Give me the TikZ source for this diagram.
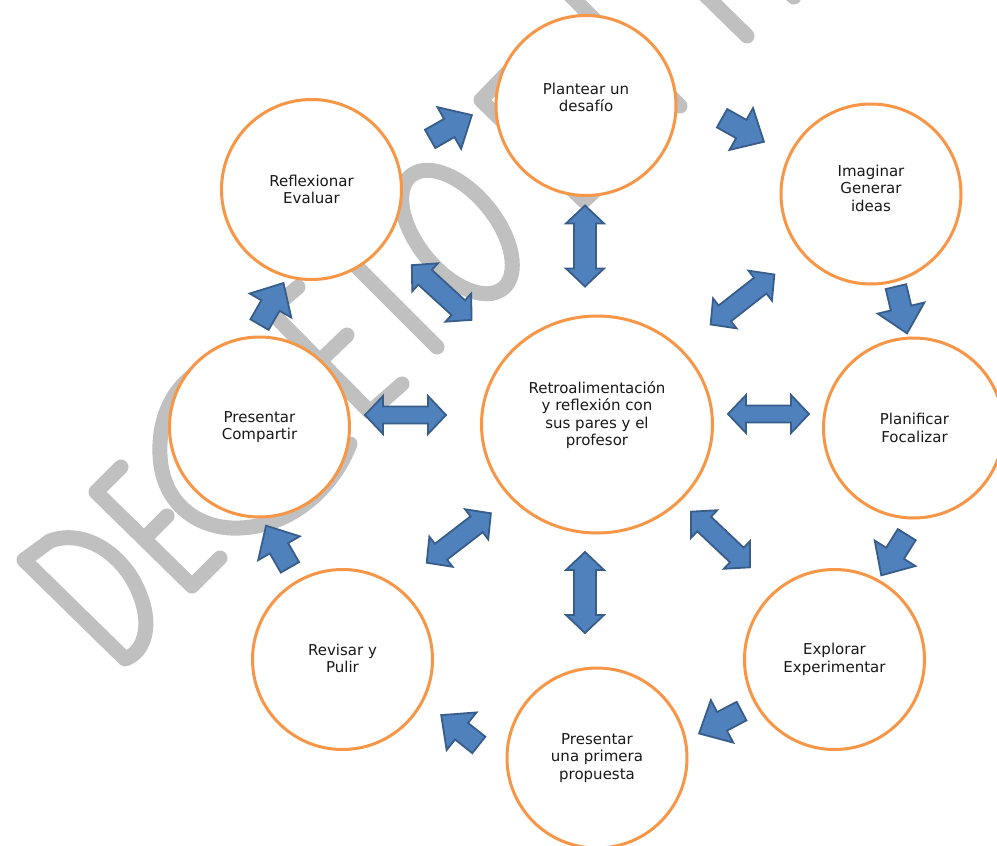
\documentclass[tikz,border=0pt]{standalone}
\usepackage{fontspec}
\setmainfont{DejaVu Sans}
\usetikzlibrary{shapes.geometric}
\definecolor{ringor}{HTML}{F79646}
\definecolor{arrfill}{HTML}{4F81BD}
\definecolor{arrline}{HTML}{385D8A}
\definecolor{wmgray}{HTML}{C0C0C0}
\begin{document}
\begin{tikzpicture}[x=1pt,y=-1pt,
  ring/.style={circle, draw=ringor, line width=3pt, fill=white, minimum size=180pt, inner sep=0pt},
  bigring/.style={ellipse, draw=ringor, line width=3pt, fill=white, minimum width=231pt, minimum height=217pt, inner sep=0pt},
  lbl/.style={align=center, font=\fontsize{15}{17.5}\selectfont, text=black!90, inner sep=0pt},
  wm/.style={draw=wmgray, line width=15pt, line cap=round, line join=round},
  blk/.style={fill=arrfill, draw=arrline, line width=1.8pt, line join=miter},
  pics/sarrow/.style={code={\draw[blk] (-24,-10.5) -- (-2,-10.5) -- (-2,-24) -- (24,0) -- (-2,24) -- (-2,10.5) -- (-24,10.5) -- cycle;}},
  pics/darrow/.style={code={\draw[blk] (-40.5,0) -- (-22.5,-19) -- (-22.5,-#1) -- (22.5,-#1) -- (22.5,-19) -- (40.5,0) -- (22.5,19) -- (22.5,#1) -- (-22.5,#1) -- (-22.5,19) -- cycle;}}]
\path[use as bounding box] (0,0) rectangle (997,846);
\clip (0,0) rectangle (997,846);
\fill[white] (0,0) rectangle (997,846);

% watermark
\draw[wm] (125,659) -- (24,560) -- (50,541) .. controls (85,528) and (125,555) .. (140,595) .. controls (152,625) and (145,652) .. (125,659) -- cycle;
\draw[wm] (121,467) -- (96,492) -- (192,586) -- (220,558);
\draw[wm] (144,539) -- (167,516);
\draw[wm] (225,360) .. controls (180,372) and (158,410) .. (160,455) .. controls (162,505) and (200,530) .. (240,528) .. controls (290,526) and (332,490) .. (350,444);
\draw[wm] (298,287) -- (270,311) -- (370,412) -- (402,384);
\draw[wm] (320,361) -- (347,335);
\draw[wm] (320,230) -- (437,347);
\begin{scope}[shift={(457,232)},rotate=-50.8]
\draw[wm] (0,0) ellipse [x radius=72.8, y radius=39.6];
\end{scope}
\draw[wm] (515,65) -- (481,100) -- (584,201) -- (618,168);
\draw[wm] (532,150) -- (566,117);
\draw[wm] (565,-10) -- (680,106);
\draw[wm] (690,-20) -- (747,36);
\draw[wm] (782,-14) -- (794,-3);

% circles
\node[ring] (plan) at (586,105.5) {};
\node[ring] (refl) at (311.5,189.5) {};
\node[ring] (imag) at (871,194) {};
\node[ring] (planif) at (913.5,428) {};
\node[bigring] (centro) at (597,424.5) {};
\node[ring] (comp) at (259.5,427) {};
\node[ring] (revi) at (342.5,659.5) {};
\node[ring] (prim) at (597,758) {};
\node[ring] (expl) at (834.5,659.5) {};

% labels
\node[lbl] (tplan) at ([yshift=8pt]plan.center) {Plantear un\\desafío};
\node[lbl] (trefl) at (refl.center) {Reflexionar\\Evaluar};
\node[lbl] (timag) at ([yshift=6pt]imag.center) {Imaginar\\Generar\\ideas};
\node[lbl] (tplanif) at ([xshift=1pt]planif.center) {Planificar\\Focalizar};
\node[lbl] (tcentro) at ([yshift=9.5pt]centro.center) {Retroalimentación\\y reflexión con\\sus pares y el\\profesor};
\node[lbl] (tcomp) at (comp.center) {Presentar\\Compartir};
\node[lbl] (trevi) at ([yshift=1pt]revi.center) {Revisar y\\Pulir};
\node[lbl] (tprim) at (prim.center) {Presentar\\una primera\\propuesta};
\node[lbl] (texpl) at (expl.center) {Explorar\\Experimentar};

% single arrows (cycle)
\pic[rotate=29.7] at (451,127) {sarrow};
\pic[rotate=-29.4] at (743,130) {sarrow};
\pic[rotate=-76.6] at (901.5,310) {sarrow};
\pic[rotate=-122] at (894,555) {sarrow};
\pic[rotate=-152.2] at (720.3,722.3) {sarrow};
\pic[rotate=141.6] at (460,730) {sarrow};
\pic[rotate=119.8] at (278,546.5) {sarrow};
\pic[rotate=60] at (271.5,303.8) {sarrow};

% double arrows (to centre)
\pic[rotate=90] at (585,246) {darrow=11};
\pic[rotate=90] at (585,592.5) {darrow=11};
\pic at (405.5,415) {darrow=8.5};
\pic at (768.5,414) {darrow=8.5};
\pic[rotate=-42.5] at (441.7,292.5) {darrow=10};
\pic[rotate=38.1] at (742.5,299.5) {darrow=10};
\pic[rotate=37.6] at (458.8,538) {darrow=10};
\pic[rotate=-43.4] at (720.5,539.5) {darrow=10};
\end{tikzpicture}
\end{document}
